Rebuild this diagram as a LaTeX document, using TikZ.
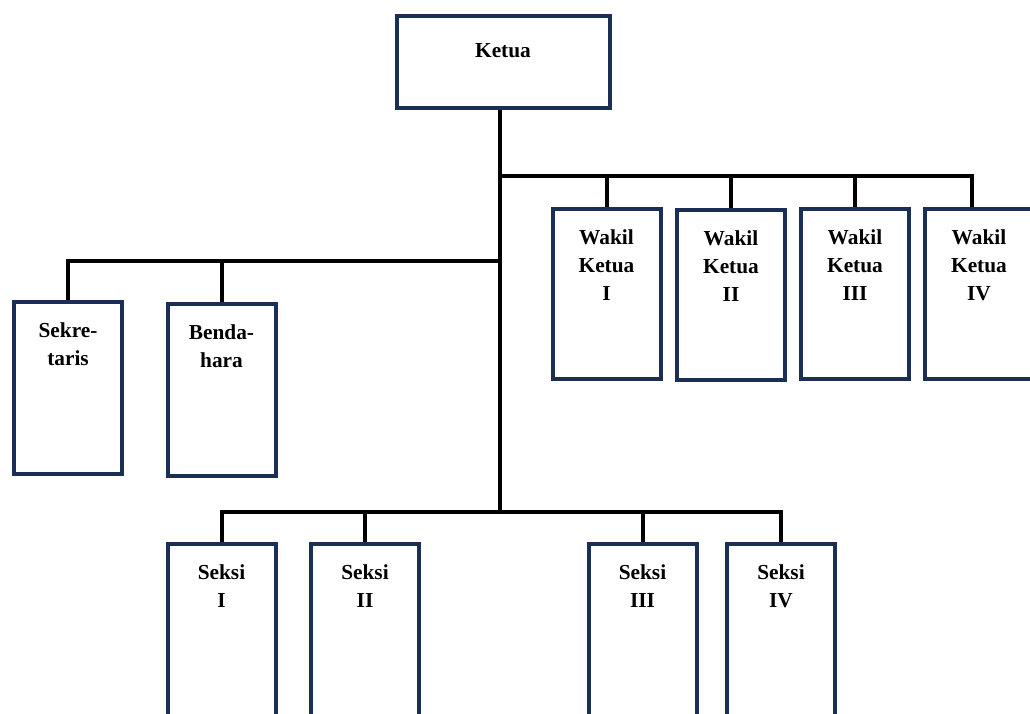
\documentclass[tikz,border=0pt]{standalone}
\usepackage{fontspec}
\setmainfont{Liberation Serif}
\usepackage{tikz}
\definecolor{boxblue}{RGB}{27,46,86}
\tikzset{
unit/.style={
  draw=boxblue,
  line width=3pt,
  fill=white,
  inner sep=0pt,
  minimum width=81pt,
  minimum height=128pt
},
lbl/.style={
  anchor=north,
  inner sep=0pt,
  align=center,
  yshift=-17pt,
  font=\bfseries\fontsize{16}{21}\selectfont
},
link/.style={draw=black, line width=3pt}
}

\begin{document}
\begin{tikzpicture}[x=0.75pt,y=-0.75pt]
\useasboundingbox (0,0) rectangle (1030,713);
\clip (0,0) rectangle (1030,713);
% top
\node[unit, minimum width=159.75pt, minimum height=69pt,
  label={[lbl, yshift=-5pt]north:Ketua}] (ketua) at (503,62) {};
% junctions on the trunk
\coordinate (hubW) at (500,176);
\coordinate (hubL) at (500,261);
\coordinate (hubS) at (500,512);
% wakil ketua
\node[unit, label={[lbl]north:Wakil\\Ketua\\I}] (wk1) at (606.5,294) {};
\node[unit, label={[lbl]north:Wakil\\Ketua\\II}] (wk2) at (731,295) {};
\node[unit, label={[lbl]north:Wakil\\Ketua\\III}] (wk3) at (855,294) {};
\node[unit, label={[lbl]north:Wakil\\Ketua\\IV}] (wk4) at (979,294) {};
% sekretaris, bendahara
\node[unit, minimum height=129pt, label={[lbl]north:Sekre-\\taris}] (sekre) at (68,388) {};
\node[unit, minimum height=129pt, label={[lbl]north:Benda-\\hara}] (benda) at (221.5,389.5) {};
% seksi
\node[unit, minimum height=150pt, label={[lbl]north:Seksi\\I}] (seksi1) at (221.5,644) {};
\node[unit, minimum height=150pt, label={[lbl]north:Seksi\\II}] (seksi2) at (365,644) {};
\node[unit, minimum height=150pt, label={[lbl]north:Seksi\\III}] (seksi3) at (642.5,644) {};
\node[unit, minimum height=150pt, label={[lbl]north:Seksi\\IV}] (seksi4) at (781,644) {};
% the lines
\draw[link] (hubS |- ketua.south) -- (hubS);
\foreach \n in {wk1,wk2,wk3}
{
  \draw[link] (hubW) -| (\n.north);
}
\draw[link] (hubW) -| ([xshift=-5pt]wk4.north);
\foreach \n in {sekre,benda}
{
  \draw[link] (hubL) -| (\n.north);
}
\foreach \n in {seksi1,seksi2,seksi3,seksi4}
{
  \draw[link] (hubS) -| (\n.north);
}
\end{tikzpicture}
\end{document}
